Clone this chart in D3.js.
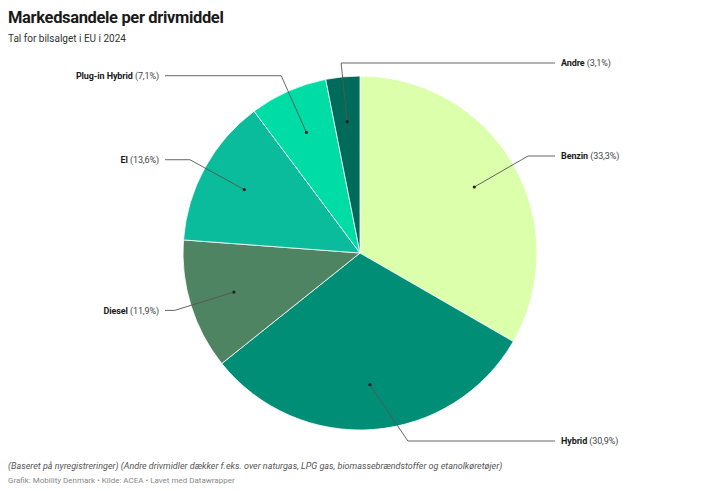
<!DOCTYPE html>
<html>
<head>
<meta charset="utf-8">
<script src="https://cdn.jsdelivr.net/npm/d3@7"></script>
<style>
  html, body { margin: 0; padding: 0; background: #fff; }
  svg { display: block; font-family: Roboto, "Noto Sans", sans-serif; }
</style>
</head>
<body>
<svg id="chart" width="720" height="491"></svg>
<script>
const categories = ["Benzin", "Hybrid", "Diesel", "El", "Plug-in Hybrid", "Andre"];
const values = [33.3, 30.9, 11.9, 13.6, 7.1, 3.1];
const valueLabels = ["33,3%", "30,9%", "11,9%", "13,6%", "7,1%", "3,1%"];
const colors = ["#dbffaa", "#008f76", "#4e8461", "#0bbc9c", "#00dca5", "#006b5b"];

const title = "Markedsandele per drivmiddel";
const subtitle = "Tal for bilsalget i EU i 2024";
const note = "(Baseret på nyregistreringer) (Andre drivmidler dækker f.eks. over naturgas, LPG gas, biomassebrændstoffer og etanolkøretøjer)";
const credit = "Grafik: Mobility Denmark • Kilde: ACEA • Lavet med Datawrapper";

const svg = d3.select("#chart");
const cx = 360, cy = 253, R = 177;
const dotR = 132, elbowR = 194;

svg.append("text").attr("x", 8).attr("y", 23)
  .attr("font-size", 16.5).attr("font-weight", 700).attr("letter-spacing", -0.35)
  .attr("fill", "#1a1a1a").text(title);
svg.append("text").attr("x", 8).attr("y", 42)
  .attr("font-size", 10).attr("fill", "#333").text(subtitle);

const data = categories.map((c, i) => ({ name: c, value: values[i], label: valueLabels[i], color: colors[i] }));
const pie = d3.pie().value(d => d.value).sort(null);
const arcs = pie(data);
const arc = d3.arc().innerRadius(0).outerRadius(R);

const g = svg.append("g").attr("transform", `translate(${cx},${cy})`);
g.selectAll("path.slice").data(arcs).join("path")
  .attr("class", "slice")
  .attr("d", arc)
  .attr("fill", d => d.data.color)
  .attr("stroke", "#fff").attr("stroke-width", 0.8);

const yMin = 63 - cy, yMax = 441 - cy;
arcs.forEach(d => {
  const a = (d.startAngle + d.endAngle) / 2;
  const dx = Math.sin(a) * dotR, dy = -Math.cos(a) * dotR;
  let ex = Math.sin(a) * elbowR, ey = -Math.cos(a) * elbowR;
  if (ey > yMax) { ey = yMax; ex = Math.sign(ex || 1) * Math.sqrt(elbowR * elbowR - ey * ey); }
  if (ey < yMin) { ey = yMin; }
  // labels near the top go to the right side to avoid crowding
  const right = Math.sin(a) >= 0 || a > 2 * Math.PI - 0.2;
  const hx = right ? 555 - cx : 165 - cx;
  g.append("path")
    .attr("d", `M${dx},${dy}L${ex},${ey}L${hx},${ey}`)
    .attr("fill", "none").attr("stroke", "#555").attr("stroke-width", 0.9);
  g.append("circle").attr("cx", dx).attr("cy", dy).attr("r", 1.6).attr("fill", "#222");
  const t = g.append("text")
    .attr("x", right ? hx + 6 : hx - 6).attr("y", ey).attr("dy", "0.35em")
    .attr("text-anchor", right ? "start" : "end")
    .attr("font-size", 9).attr("letter-spacing", -0.1);
  t.append("tspan").attr("font-weight", 700).attr("fill", "#1a1a1a").text(d.data.name);
  t.append("tspan").attr("fill", "#444").text(" (" + d.data.label + ")");
});

svg.append("text").attr("x", 8).attr("y", 469)
  .attr("font-size", 9).attr("font-style", "italic").attr("fill", "#555").text(note);
svg.append("text").attr("x", 8).attr("y", 483)
  .attr("font-size", 8).attr("fill", "#888").text(credit);
</script>
</body>
</html>
